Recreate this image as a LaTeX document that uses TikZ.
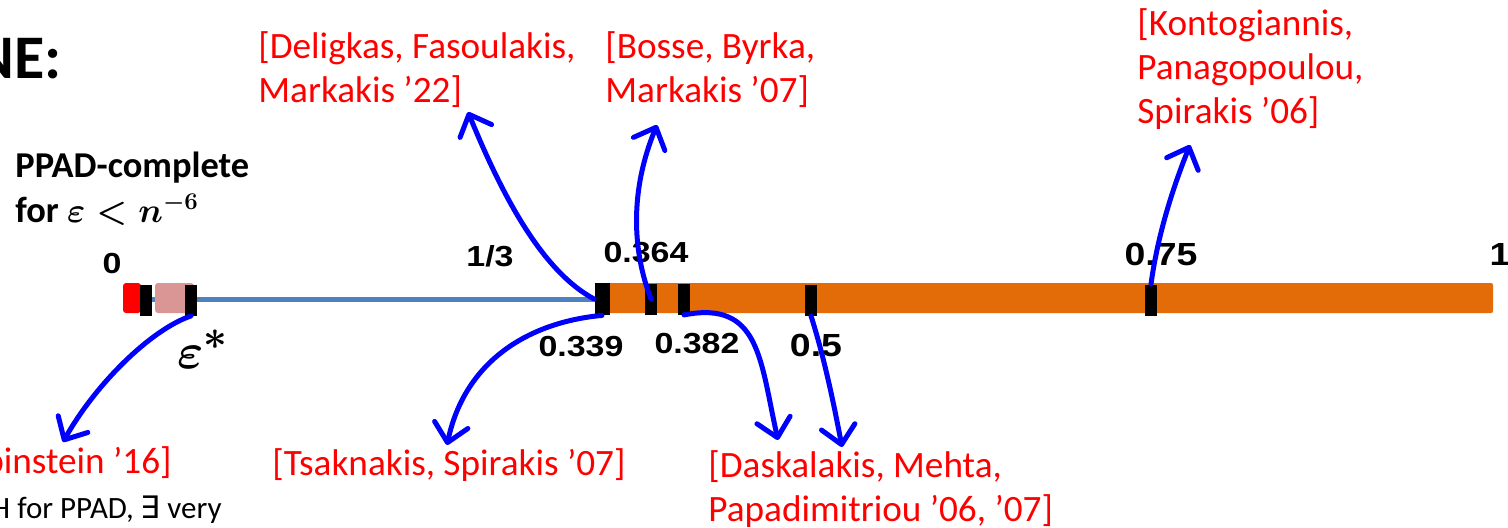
\documentclass[tikz,border=0pt]{standalone}
\usepackage{fontspec}
\usepackage{bm}
\setmainfont{Carlito}
\newfontfamily\numfont{Liberation Sans}[FakeStretch=1.17]
\newfontfamily\symfont{DejaVu Sans}
\usetikzlibrary{arrows.meta}
\definecolor{barorange}{HTML}{E36C09}
\definecolor{lineblue}{HTML}{4F81BD}
\definecolor{pinkbox}{HTML}{D99694}
\definecolor{arrowblue}{HTML}{0000FF}
\begin{document}
\begin{tikzpicture}[x=0.5pt,y=-0.5pt,
  ref/.style={text=red, font=\fontsize{18.6}{22}\selectfont, align=left, anchor=base west, inner sep=0},
  num/.style={font=\numfont\bfseries\fontsize{14.5}{17}\selectfont, anchor=base, inner sep=0},
  bignum/.style={font=\numfont\bfseries\fontsize{16}{19}\selectfont, anchor=base, inner sep=0},
  tickmark/.style={fill=black, inner sep=0, minimum width=6pt, minimum height=15.5pt},
  arr/.style={draw=arrowblue, line width=2.5pt, line cap=round, line join=round, -{Straight Barb[length=9pt,width=17pt,round]}},
]
\useasboundingbox (0,0) rectangle (1508,527);

% bar
\draw[lineblue, line width=2.5pt] (140,299) -- (600,299);
\fill[barorange, rounded corners=1pt] (603,283) rectangle (1493,313);
\fill[red, rounded corners=1.5pt] (123,283) rectangle (141,313);
\fill[pinkbox, rounded corners=1.5pt] (155,283) rectangle (194,313);

% ticks
\node[tickmark] (lt1) at (146,300) {};
\node[tickmark] (lt2) at (191,300) {};
\node[tickmark, minimum width=7.5pt, minimum height=16pt] (t339) at (602,299) {};
\node[tickmark] (t364) at (651,299) {};
\node[tickmark] (t382) at (684,299) {};
\node[tickmark] (t05) at (811,300) {};
\node[tickmark] (t075) at (1151,300) {};

% numbers
\node[num] (n0) at (112,273) {0};
\node[num] (n13) at (490,266) {1/3};
\node[num] (n364) at (646,262) {0.364};
\node[num] (n339) at (581,356) {0.339};
\node[num] (n382) at (697,353) {0.382};
\node[bignum] (n05) at (816,356) {0.5};
\node[bignum] (n075) at (1161,265) {0.75};
\node[bignum] (n1) at (1500,265) {1};

% black texts
\node[anchor=base east, inner sep=0, font=\bfseries\fontsize{31}{34}\selectfont] (ne) at (62,78) {NE:};
\node[anchor=base west, inner sep=0, align=left, font=\boldmath\bfseries\fontsize{18.2}{22.5}\selectfont] (ppad) at (15,222) {PPAD-complete\\for $\varepsilon < n^{-6}$};
\node[anchor=base west, inner sep=0, font=\boldmath\fontsize{28}{32}\selectfont] (eps) at (177,368) {$\varepsilon^{*}$};
\node[anchor=base east, inner sep=0, font=\fontsize{15.5}{18}\selectfont] (eth) at (222,518) {H for PPAD, {\symfont ∃} very};

% references (anchored on the baseline of their last line)
\node[ref] (deli) at (258,102) {[Deligkas, Fasoulakis,\\Markakis ’22]};
\node[ref] (bosse) at (605,102) {[Bosse, Byrka,\\Markakis ’07]};
\node[ref] (konto) at (1137,123) {[Kontogiannis,\\Panagopoulou,\\Spirakis ’06]};
\node[ref] (tsak) at (272,475) {[Tsaknakis, Spirakis ’07]};
\node[ref] (dask) at (708,521) {[Daskalakis, Mehta,\\Papadimitriou ’06, ’07]};
\node[ref, anchor=base east] (rub) at (172,473) {Rubinstein ’16]};

% arrow tips
\coordinate (tipRub) at (63,442);
\coordinate (tipTsak) at (447,445);
\coordinate (tipDeli) at (468,112);
\coordinate (tipBosse) at (657,125);
\coordinate (tipDask) at (778,440);
\coordinate (tipHalf) at (842,447);
\coordinate (tipKonto) at (1190,145);

% arrows
\draw[arr] (lt2.south) .. controls (150,330) and (95,385) .. (tipRub);
\draw[arr] (t339.south) .. controls (530,322) and (465,360) .. (tipTsak);
\draw[arr] (t339.west) .. controls (540,270) and (500,190) .. (tipDeli);
\draw[arr] (t364.center) .. controls (632,250) and (630,190) .. (tipBosse);
\draw[arr] (t382.south) .. controls (760,300) and (760,360) .. (tipDask);
\draw[arr] (t05.south) .. controls (825,360) and (835,410) .. (tipHalf);
\draw[arr] (t075.north) .. controls (1157,240) and (1170,195) .. (tipKonto);
\end{tikzpicture}
\end{document}
